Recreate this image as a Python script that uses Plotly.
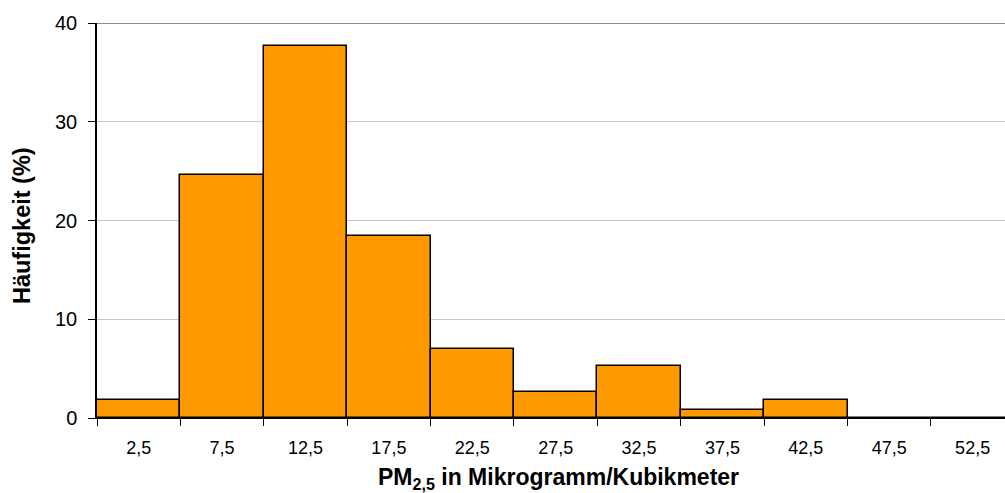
import plotly.graph_objects as go

# Class midpoints (µg/m³) and relative frequency per class (%)
bin_centers = [2.5, 7.5, 12.5, 17.5, 22.5, 27.5, 32.5, 37.5, 42.5, 47.5, 52.5]
bin_labels = ["2,5", "7,5", "12,5", "17,5", "22,5", "27,5", "32,5", "37,5", "42,5", "47,5", "52,5"]
frequency = [1.82, 24.63, 37.67, 18.43, 6.98, 2.63, 5.29, 0.77, 1.82, 0.0, 0.0]
bin_width = 5
y_ticks = [0, 10, 20, 30, 40]

fig = go.Figure(
    go.Bar(
        x=bin_centers,
        y=frequency,
        width=[bin_width] * len(bin_centers),
        marker=dict(color="#FF9900", line=dict(color="black", width=1.5)),
        hoverinfo="x+y",
    )
)

font_family = "Liberation Sans, Arial, sans-serif"

fig.update_layout(
    width=1005,
    height=493,
    margin=dict(l=97, r=0, t=23, b=75),
    plot_bgcolor="white",
    paper_bgcolor="white",
    showlegend=False,
    bargap=0,
    font=dict(family=font_family, color="black"),
    xaxis=dict(
        range=[0, 54.44],
        tickvals=bin_centers,
        ticktext=bin_labels,
        ticks="",
        ticklabelstandoff=13,
        tickfont=dict(size=18),
        showline=True,
        linecolor="black",
        linewidth=1.3,
        showgrid=False,
        zeroline=False,
        minor=dict(tick0=0, dtick=bin_width, ticks="outside", ticklen=7,
                   tickcolor="black", tickwidth=1.2, showgrid=False),
    ),
    yaxis=dict(
        range=[0, 40],
        tickvals=y_ticks,
        ticks="outside",
        ticklen=7,
        tickcolor="black",
        tickwidth=1.2,
        tickfont=dict(size=20),
        ticklabelstandoff=7,
        showline=True,
        linecolor="black",
        linewidth=1.5,
        showgrid=True,
        gridcolor="#c8c8c8",
        gridwidth=1,
        zeroline=False,
    ),
    shapes=[
        dict(type="line", xref="paper", yref="y", x0=0, x1=1, y0=40, y1=40,
             line=dict(color="#8c8c8c", width=1.8), layer="above"),
    ],
    annotations=[
        dict(text="<b>Häufigkeit (%)</b>", xref="paper", yref="paper", x=0, y=0.486,
             xanchor="center", yanchor="middle", xshift=-75, textangle=-90,
             showarrow=False, font=dict(size=23.5, family=font_family, color="black")),
        dict(text="<b>PM<sub>2,5</sub> in Mikrogramm/Kubikmeter</b>", xref="paper", yref="paper",
             x=0.5, y=0, xanchor="center", yanchor="middle", xshift=7, yshift=-60,
             showarrow=False, font=dict(size=23, family=font_family, color="black")),
    ],
)

fig.write_html("out.html")
